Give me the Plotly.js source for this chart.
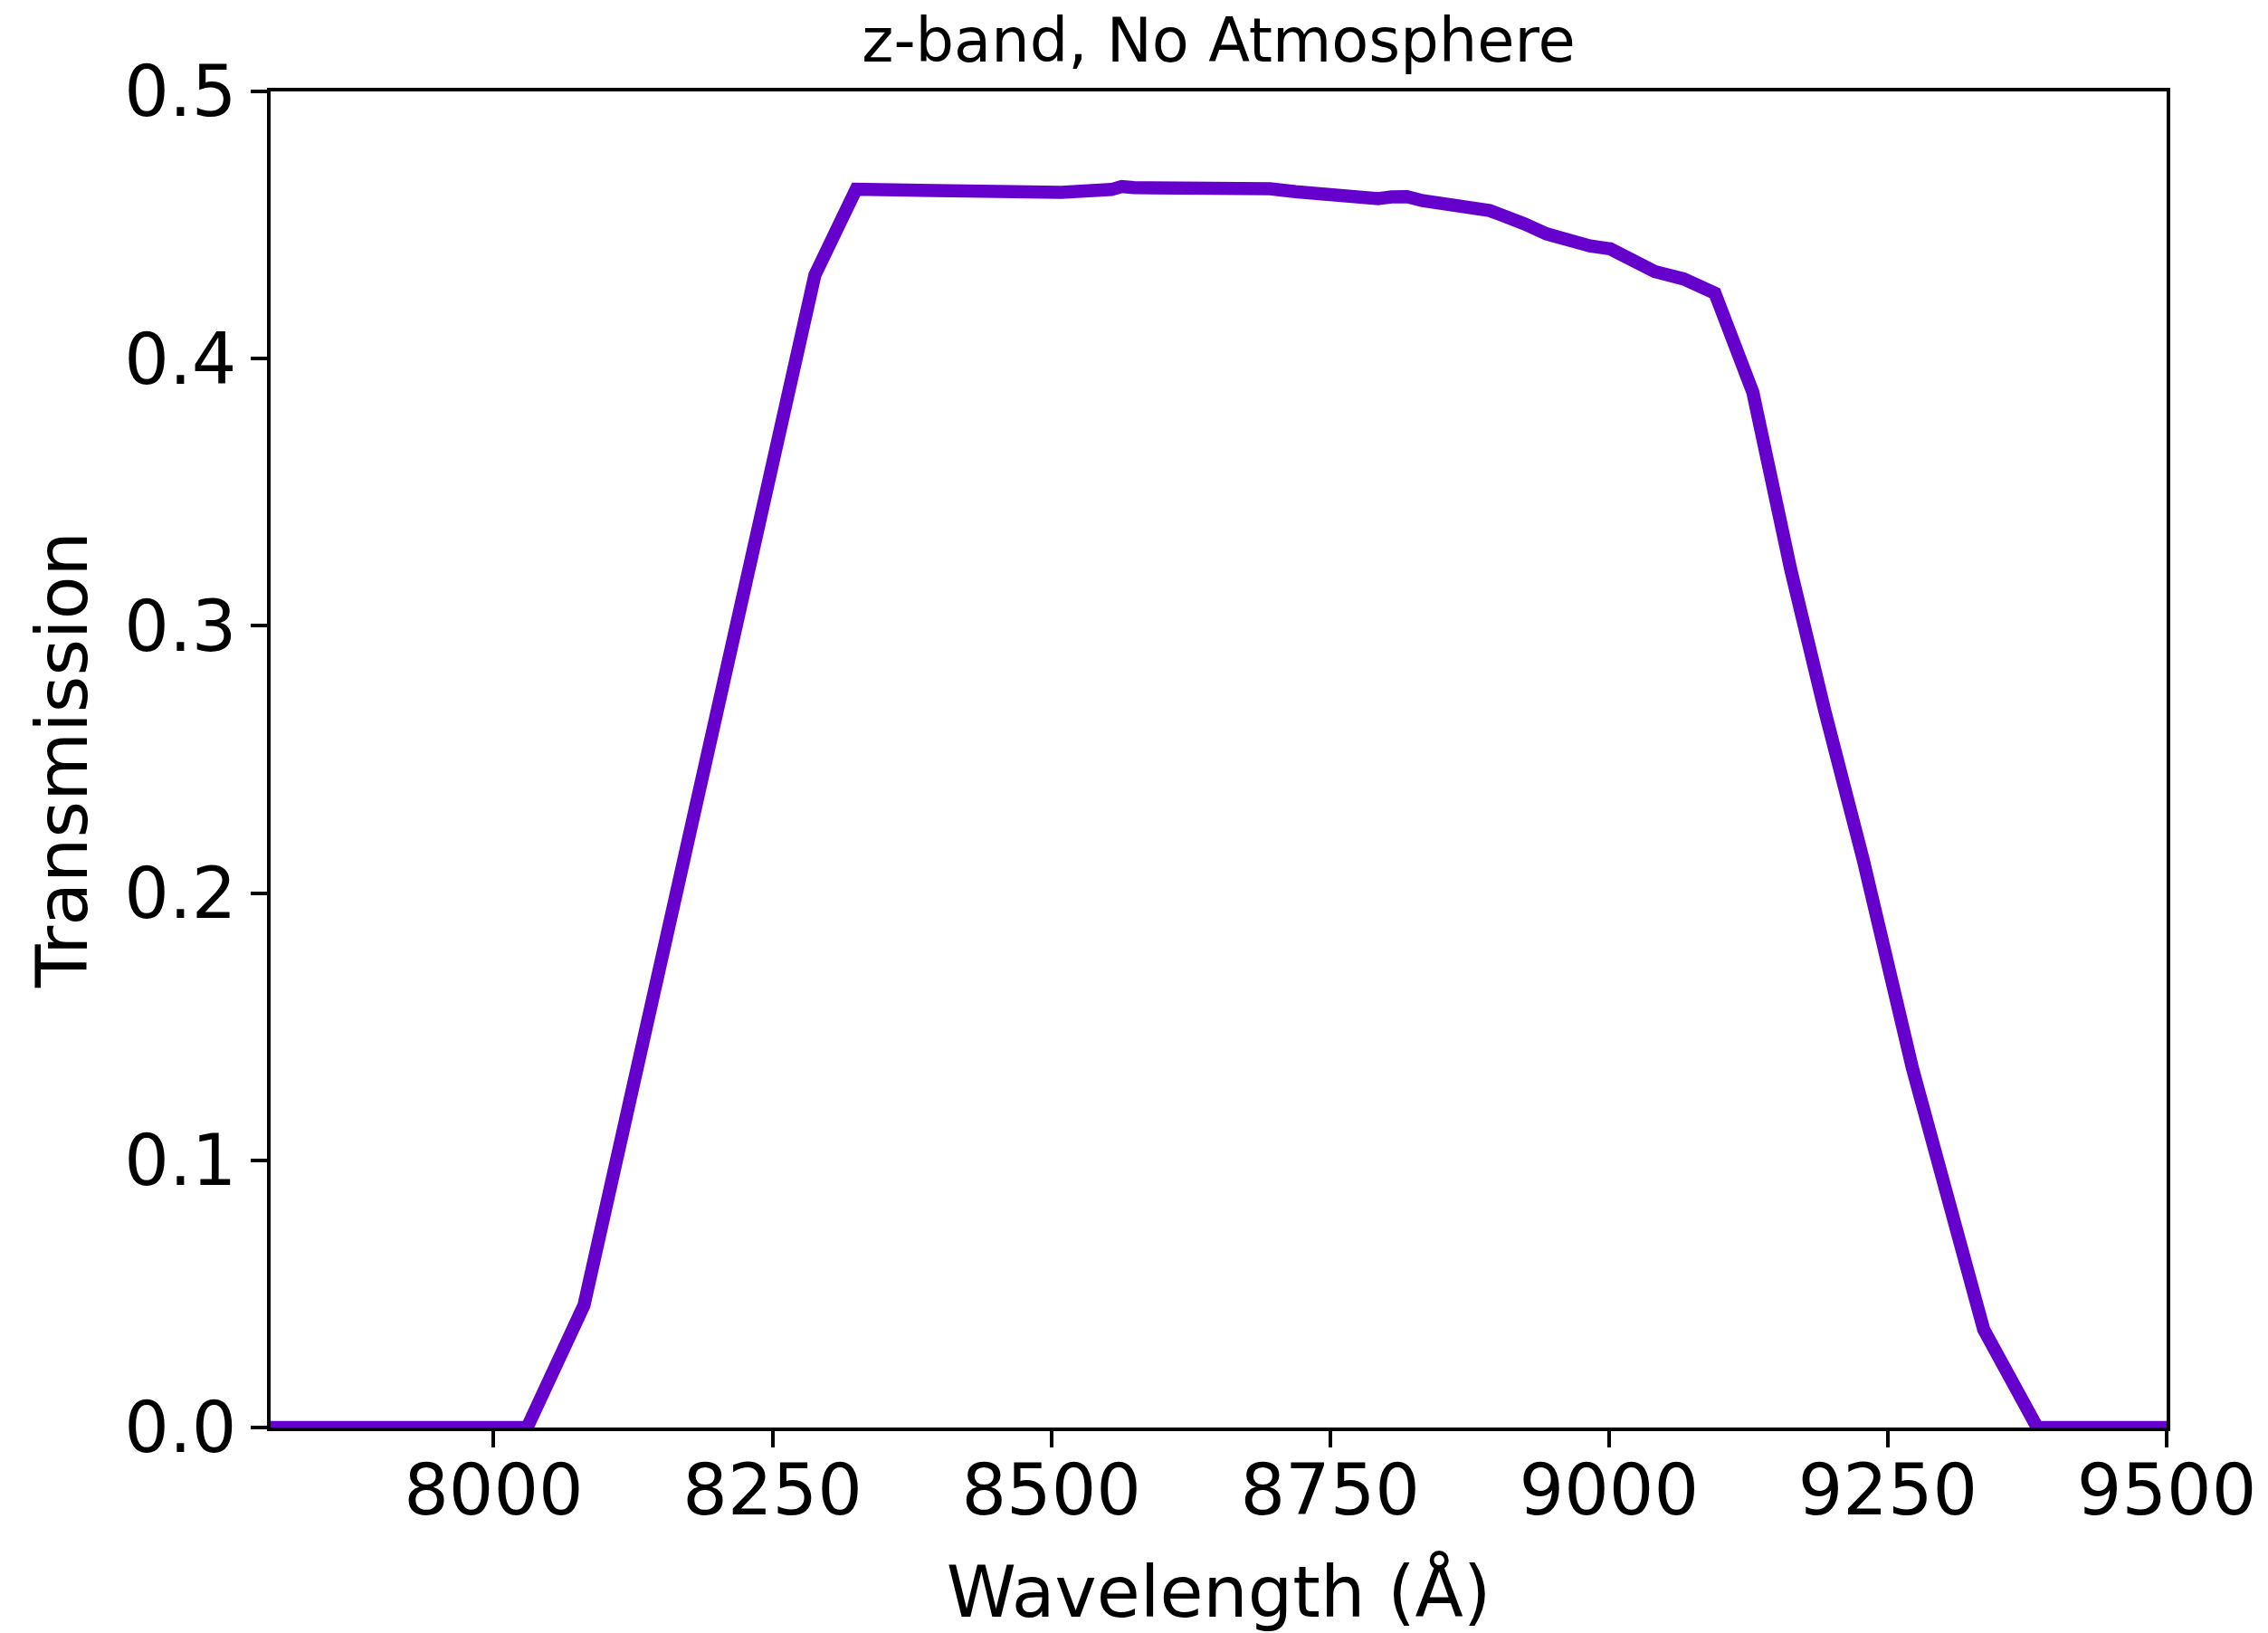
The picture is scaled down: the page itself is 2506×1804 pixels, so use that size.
<!DOCTYPE html>
<html>
<head>
<meta charset="utf-8">
<script src="https://cdn.plot.ly/plotly-3.0.1.min.js"></script>
<style>html,body{margin:0;padding:0;background:#fff;}#plot{width:2506px;height:1804px;}</style>
</head>
<body>
<div id="plot"></div>
<script>
// Wavelength (Å)
const wavelength = [7750, 8030, 8081, 8288, 8325, 8347, 8380, 8418, 8432, 8475, 8498, 8509, 8554, 8563, 8574,
  8617, 8674, 8685, 8696, 8719, 8742, 8765, 8783, 8793, 8805, 8819, 8833, 8850, 8862, 8873, 8893, 8902,
  8913, 8924, 8944, 8961, 8972, 8983, 9001, 9021, 9041, 9067, 9084, 9095, 9129, 9163, 9193, 9228, 9272,
  9305, 9323, 9336, 9384, 9550];
// Transmission
const transmission = [0, 0, 0.0458, 0.4313, 0.4634, 0.4633, 0.4627, 0.4620, 0.4624, 0.4616, 0.4622, 0.4622,
  0.4633, 0.4644, 0.4640, 0.4641, 0.4640, 0.4633, 0.4636, 0.4625, 0.4614, 0.4608, 0.4606, 0.4599, 0.4605,
  0.4606, 0.4591, 0.4582, 0.4571, 0.4563, 0.4554, 0.4540, 0.4516, 0.4505, 0.4467, 0.4442, 0.4433, 0.4422,
  0.4411, 0.4371, 0.4326, 0.4298, 0.4269, 0.4245, 0.3874, 0.3210, 0.2690, 0.2124, 0.1346, 0.0828, 0.0568,
  0.0367, 0, 0];
const xTicks = [8000, 8250, 8500, 8750, 9000, 9250, 9500];
const yTicks = [0.0, 0.1, 0.2, 0.3, 0.4, 0.5];
const titleText = 'z-band, No Atmosphere';
const xTitle = 'Wavelength (Å)';
const yTitle = 'Transmission';

const font = 'DejaVu Sans, sans-serif';
const trace = {
  x: wavelength, y: transmission, type: 'scatter', mode: 'lines',
  line: {color: '#6600cc', width: 14.5}, hoverinfo: 'skip'
};
const axisCommon = {
  showline: true, linecolor: '#000', linewidth: 4, mirror: true,
  ticks: 'outside', ticklen: 18, tickwidth: 4, tickcolor: '#000',
  showgrid: false, zeroline: false, automargin: false,
  tickfont: {family: font, size: 78, color: '#000'}
};
const layout = {
  width: 2506, height: 1804,
  margin: {l: 299, r: 112, t: 101, b: 227, pad: 0},
  paper_bgcolor: '#fff', plot_bgcolor: '#fff',
  showlegend: false,
  title: {text: titleText, font: {family: font, size: 67, color: '#000'},
          x: 0.5, xref: 'paper', xanchor: 'center', y: 1 - 45/1804, yref: 'container', yanchor: 'middle'},
  xaxis: Object.assign({}, axisCommon, {
    range: [7800, 9500], tickvals: xTicks, ticktext: xTicks.map(String),
    ticklabelstandoff: -20,
    title: {text: xTitle, font: {family: font, size: 78, color: '#000'}, standoff: 50}
  }),
  yaxis: Object.assign({}, axisCommon, {
    range: [0, 0.5], tickvals: yTicks, ticktext: yTicks.map(v => v.toFixed(1)),
    title: {text: yTitle, font: {family: font, size: 78, color: '#000'}, standoff: 16}
  })
};
Plotly.newPlot('plot', [trace], layout, {staticPlot: true, displayModeBar: false});
</script>
</body>
</html>
